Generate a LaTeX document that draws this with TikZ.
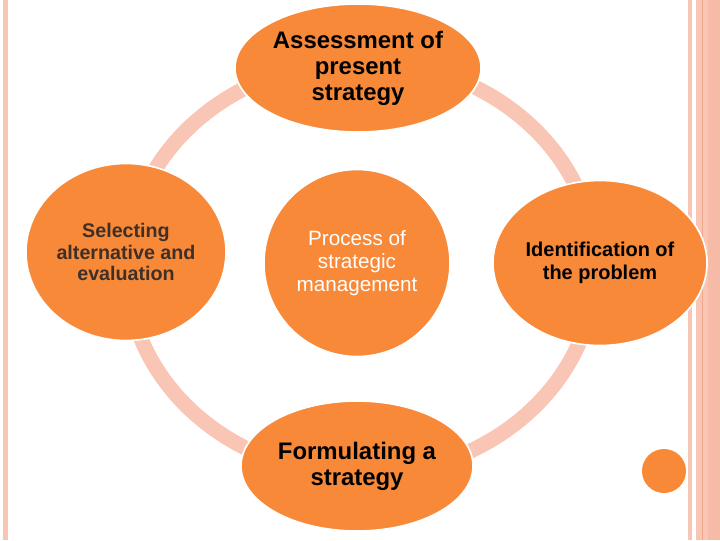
\documentclass[tikz,border=0pt]{standalone}
\usepackage{fontspec}
\setmainfont{Liberation Sans}
\usepackage{tikz}
\usetikzlibrary{shapes.geometric}
\definecolor{myorange}{RGB}{247,137,57}
\definecolor{mypeach}{RGB}{249,197,180}
\definecolor{mypeachdk}{RGB}{240,168,140}
\definecolor{mybrown}{RGB}{62,48,40}
\tikzset{
  stage/.style={ellipse, draw=white, fill=myorange, line width=1.2pt,
    inner sep=0pt, align=center, text=black},
  hub/.style={ellipse, draw=white, fill=myorange, line width=1.2pt,
    inner sep=0pt, align=center, text=white},
  ring/.style={draw=mypeach, line width=10.7pt},
  stripe/.style={fill=mypeach, draw=none}
}

\begin{document}
\begin{tikzpicture}[x=0.025cm, y=-0.025cm]
  \useasboundingbox (0,0) rectangle (720,540);

  % Side stripes
  \fill[stripe] (3,0) rectangle (8,540);
  \fill[stripe] (688,0) rectangle (692,540);
  \fill[stripe] (696,0) rectangle (720,540);
  \fill[mypeachdk!35!mypeach] (708,0) rectangle (720,540);
  \draw[mypeachdk, line width=0.8pt] (702.5,0) -- (702.5,540);

  % Cycle ring behind the stages
  \draw[ring] (361,268) ellipse [x radius=234, y radius=207];

  % Stages
  \node[stage, minimum width=6.15cm, minimum height=3.2cm,
    font=\bfseries\fontsize{17}{18.5}\selectfont] (assess) at (358,68)
    {Assessment of\\present\\strategy};
  \node[stage, minimum width=5.35cm, minimum height=4.125cm,
    font=\bfseries\fontsize{14.2}{16.4}\selectfont] (ident) at (600,263)
    {Identification of\\the problem};
  \node[stage, minimum width=5.8cm, minimum height=3.25cm,
    font=\bfseries\fontsize{17}{18.5}\selectfont] (formul) at (357,466)
    {Formulating a\\strategy};
  \node[stage, text=mybrown, minimum width=5cm, minimum height=4.425cm,
    font=\bfseries\fontsize{14}{15}\selectfont] (select) at (126,252)
    {Selecting\\alternative and\\evaluation};

  % Centre
  \node[hub, minimum width=4.65cm, minimum height=4.675cm,
    font=\fontsize{14.7}{16.4}\selectfont] (process) at (357,263)
    {Process of\\strategic\\management};

  \node[circle, fill=myorange, minimum size=1.1cm, inner sep=0pt] (dot) at (664,471) {};
\end{tikzpicture}
\end{document}
